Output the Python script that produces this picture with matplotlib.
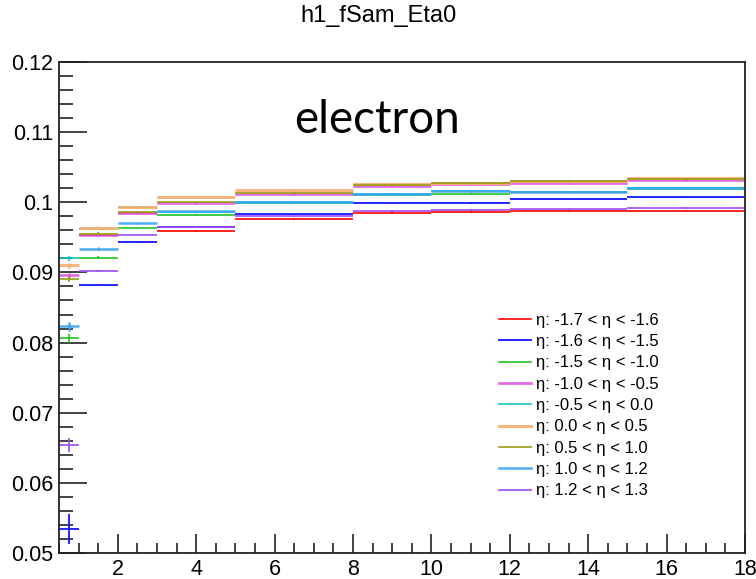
import numpy as np
import matplotlib
matplotlib.use("Agg")
import matplotlib.pyplot as plt
from matplotlib.lines import Line2D
from matplotlib.ticker import MultipleLocator, FuncFormatter

# ---- data ----
bin_edges = [0.5, 1, 2, 3, 5, 8, 10, 12, 15, 18]
labels = [
    "η: -1.7 < η < -1.6",
    "η: -1.6 < η < -1.5",
    "η: -1.5 < η < -1.0",
    "η: -1.0 < η < -0.5",
    "η: -0.5 < η < 0.0",
    "η: 0.0 < η < 0.5",
    "η: 0.5 < η < 1.0",
    "η: 1.0 < η < 1.2",
    "η: 1.2 < η < 1.3",
]
nan = np.nan
v_red     = [nan,    0.0954, 0.0985, 0.0959, 0.0976, 0.0985, 0.0986, 0.0987, 0.0987]
v_blue    = [0.0534, 0.0882, 0.0943, 0.0965, 0.0983, 0.0999, 0.0999, 0.1004, 0.1007]
v_green   = [0.0806, 0.0921, 0.0963, 0.0982, 0.0999, 0.1011, 0.1012, 0.1015, 0.1019]
v_magenta = [0.0896, 0.0954, 0.0985, 0.0999, 0.1012, 0.1023, 0.1026, 0.1027, 0.1032]
v_cyan    = [0.0920, 0.0962, 0.0993, 0.0986, 0.1000, 0.1012, 0.1016, 0.1015, 0.1021]
v_orange  = [0.0910, 0.0964, 0.0993, 0.1007, 0.1018, 0.1026, 0.1027, 0.1031, 0.1034]
v_olive   = [0.0891, 0.0955, 0.0986, 0.1000, 0.1013, 0.1025, 0.1027, 0.1031, 0.1033]
v_azure   = [0.0823, 0.0934, 0.0970, 0.0987, 0.1000, 0.1012, 0.1016, 0.1015, 0.1021]
v_violet  = [0.0654, 0.0902, 0.0953, 0.0965, 0.0980, 0.0987, 0.0989, 0.0990, 0.0992]

e_red     = [nan,    0.0002, 0.0001, 0.0001, 0.0001, 0.0001, 0.0001, 0.0001, 0.0001]
e_blue    = [0.0021, 0.0002, 0.0001, 0.0001, 0.0001, 0.0001, 0.0001, 0.0001, 0.0001]
e_green   = [0.0006, 0.0002, 0.0001, 0.0001, 0.0001, 0.0001, 0.0001, 0.0001, 0.0001]
e_magenta = [0.0003, 0.0002, 0.0001, 0.0001, 0.0001, 0.0001, 0.0001, 0.0001, 0.0001]
e_cyan    = [0.0004, 0.0002, 0.0001, 0.0001, 0.0001, 0.0001, 0.0001, 0.0001, 0.0001]
e_orange  = [0.0003, 0.0002, 0.0001, 0.0001, 0.0001, 0.0001, 0.0001, 0.0001, 0.0001]
e_olive   = [0.0004, 0.0002, 0.0001, 0.0001, 0.0001, 0.0001, 0.0001, 0.0001, 0.0001]
e_azure   = [0.0006, 0.0002, 0.0001, 0.0001, 0.0001, 0.0001, 0.0001, 0.0001, 0.0001]
e_violet  = [0.0010, 0.0002, 0.0001, 0.0001, 0.0001, 0.0001, 0.0001, 0.0001, 0.0001]

series = [
    (v_red, e_red, "#ff0000", 1.2, 1.0),
    (v_blue, e_blue, "#1a1aff", 1.4, 0.95),
    (v_green, e_green, "#22c322", 1.2, 1.0),
    (v_magenta, e_magenta, "#dd55dd", 2.0, 0.85),
    (v_cyan, e_cyan, "#11c8c8", 1.2, 1.0),
    (v_orange, e_orange, "#f8b070", 2.2, 0.9),
    (v_olive, e_olive, "#999911", 1.2, 1.0),
    (v_azure, e_azure, "#3ca3f5", 1.8, 0.9),
    (v_violet, e_violet, "#a050f5", 1.3, 0.95),
]

plt.rcParams['font.family'] = ['Liberation Sans', 'DejaVu Sans']

fig = plt.figure(figsize=(7.56, 5.79), dpi=100)
ax = fig.add_axes([59/756, 1-553/579, (745-59)/756, (553-62)/579])

edges = np.array(bin_edges)
centers = (edges[:-1] + edges[1:]) / 2
halfw = (edges[1:] - edges[:-1]) / 2

handles = []
for (vals, errs, col, lw, a), lab in zip(series, labels):
    ax.errorbar(centers, vals, xerr=halfw, yerr=errs, fmt='none',
                ecolor=col, elinewidth=lw, alpha=a, capsize=0)
    handles.append(Line2D([0], [0], color=col, lw=lw, alpha=a))

ax.set_xlim(0.5, 18)
ax.set_ylim(0.05, 0.12)
ax.xaxis.set_major_locator(MultipleLocator(2))
ax.xaxis.set_minor_locator(MultipleLocator(0.5))
ax.yaxis.set_major_locator(MultipleLocator(0.01))
ax.yaxis.set_minor_locator(MultipleLocator(0.002))
ax.xaxis.set_major_formatter(FuncFormatter(lambda v, p: "" if v < 1 else "%g" % v))
ax.yaxis.set_major_formatter(FuncFormatter(lambda v, p: "%g" % round(v, 3)))
ax.tick_params(axis='both', which='both', direction='in', top=False, right=False,
               labelsize=15.5, color='#222222')
ax.tick_params(axis='y', which='major', length=20, width=1.2, pad=4)
ax.tick_params(axis='y', which='minor', length=10, width=1.2)
ax.tick_params(axis='x', which='major', length=14, width=1.2, pad=4)
ax.tick_params(axis='x', which='minor', length=7, width=1.2)
for s in ax.spines.values():
    s.set_linewidth(1.3)
    s.set_color('#222222')

fig.text(378/756, 1-16/579, "h1_fSam_Eta0", ha='center', va='center', fontsize=17)
ax.text(0.4636, 0.882, "electron", transform=ax.transAxes, ha='center', va='center',
        fontsize=33, family=['Lato', 'DejaVu Sans'])

leg = ax.legend(handles, labels, loc='upper left', bbox_to_anchor=(0.632, 0.503),
                frameon=False, fontsize=12, handlelength=1.9, handletextpad=0.3,
                labelspacing=0.38, borderaxespad=0)

fig.savefig("out.png", dpi=100)
